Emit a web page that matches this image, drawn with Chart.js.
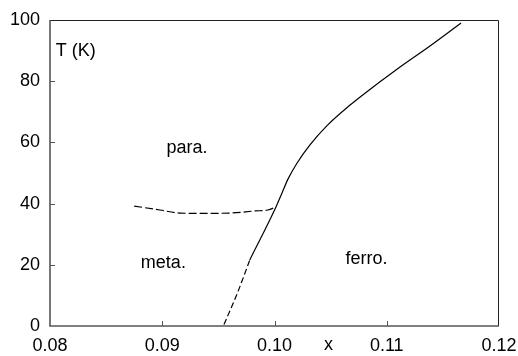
<!DOCTYPE html>
<html>
<head>
<meta charset="utf-8">
<script src="https://cdn.jsdelivr.net/npm/chart.js@4"></script>
<style>
  html, body { margin: 0; padding: 0; background: #fff; }
  #wrap { width: 518px; height: 356px; }
</style>
</head>
<body>
<div id="wrap"><canvas id="phase"></canvas></div>
<script>
// x ticks / T ticks
const xTicks = [0.08, 0.09, 0.10, 0.11, 0.12]
const tTicks = [0, 20, 40, 60, 80, 100]

// ferro boundary (solid)
const ferroX = [0.0978, 0.10013, 0.10067, 0.1012, 0.1020, 0.10316, 0.10468, 0.10673, 0.10789, 0.11091, 0.11385, 0.11662]
const ferroT = [21.6, 38.9, 43.5, 48.0, 53.2, 59.2, 65.5, 72.2, 75.6, 83.9, 91.5, 99.0]

// meta / para boundary (dashed)
const metaParaX = [0.0875, 0.0898, 0.0916, 0.0934, 0.0960, 0.0983, 0.0994, 0.10013]
const metaParaT = [39.2, 37.9, 36.9, 36.8, 36.9, 37.6, 37.9, 38.9]

// meta / ferro boundary (dashed)
const metaFerroX = [0.0955, 0.0967, 0.0978]
const metaFerroT = [0.5, 10.8, 21.6]

// region names
const regionNames = ['T (K)', 'para.', 'meta.', 'ferro.', 'x']
const regionX = [0.0823, 0.0922, 0.0901, 0.1082, 0.1048]
const regionT = [89.9, 58.2, 20.6, 21.9, -6.2]

const FONT = '"Liberation Sans", Arial, sans-serif'

let pts = (xs, ys) => xs.map((x, i) => ({x: x, y: ys[i]}))

// frame, inward ticks and the text labels
const framePlugin = {
    id: 'frame',
    afterDraw(chart) {
        const ctx = chart.ctx
        const a = chart.chartArea
        const sx = chart.scales.x
        const sy = chart.scales.y
        ctx.save()
        // top + right
        ctx.strokeStyle = '#222'
        ctx.lineWidth = 1
        ctx.beginPath()
        ctx.moveTo(a.left, a.top + 0.5)
        ctx.lineTo(a.right - 0.5, a.top + 0.5)
        ctx.lineTo(a.right - 0.5, a.bottom)
        ctx.stroke()
        // left + bottom
        ctx.strokeStyle = '#555'
        ctx.lineWidth = 1.6
        ctx.beginPath()
        ctx.moveTo(a.left, a.top)
        ctx.lineTo(a.left, a.bottom)
        ctx.lineTo(a.right, a.bottom)
        ctx.stroke()
        // ticks pointing in
        ctx.lineWidth = 1
        ctx.beginPath()
        for (let v of xTicks.slice(1, -1)) {
            let px = Math.round(sx.getPixelForValue(v)) + 0.5
            ctx.moveTo(px, a.bottom)
            ctx.lineTo(px, a.bottom - 5)
        }
        for (let v of tTicks.slice(1, -1)) {
            let py = Math.round(sy.getPixelForValue(v)) + 0.5
            ctx.moveTo(a.left, py)
            ctx.lineTo(a.left + 5, py)
        }
        ctx.stroke()
        // labels
        ctx.fillStyle = '#000'
        ctx.font = '18px ' + FONT
        ctx.textAlign = 'center'
        ctx.textBaseline = 'middle'
        regionNames.forEach((t, i) => {
            ctx.fillText(t, sx.getPixelForValue(regionX[i]), sy.getPixelForValue(regionT[i]))
        })
        ctx.restore()
    }
}

const lineStyle = {
    showLine: true,
    borderColor: '#000',
    borderWidth: 1.2,
    pointRadius: 0,
    fill: false,
    cubicInterpolationMode: 'monotone'
}

const config = {
    type: 'scatter',
    data: {
        datasets: [
            Object.assign({label: 'ferro', data: pts(ferroX, ferroT)}, lineStyle),
            Object.assign({label: 'meta-para', data: pts(metaParaX, metaParaT), borderDash: [8, 3]}, lineStyle),
            Object.assign({label: 'meta-ferro', data: pts(metaFerroX, metaFerroT), borderDash: [6, 3]}, lineStyle)
        ]
    },
    options: {
        responsive: true,
        maintainAspectRatio: false,
        animation: false,
        layout: {padding: {top: 20, right: 19, left: 0, bottom: 0}},
        plugins: {legend: {display: false}, tooltip: {enabled: false}},
        scales: {
            x: {
                type: 'linear',
                min: xTicks[0],
                max: xTicks[xTicks.length - 1],
                afterBuildTicks: s => { s.ticks = xTicks.map(v => ({value: v})) },
                afterFit: s => { s.height = 30; s.paddingLeft = 0; s.paddingRight = 0 },
                grid: {display: false, drawTicks: false},
                border: {display: false},
                ticks: {
                    color: '#000',
                    padding: 9,
                    font: {family: FONT, size: 18},
                    callback: v => v.toFixed(2)
                }
            },
            y: {
                type: 'linear',
                min: tTicks[0],
                max: tTicks[tTicks.length - 1],
                afterBuildTicks: s => { s.ticks = tTicks.map(v => ({value: v})) },
                afterFit: s => { s.width = 50; s.paddingTop = 0; s.paddingBottom = 0 },
                grid: {display: false, drawTicks: false},
                border: {display: false},
                ticks: {
                    color: '#000',
                    padding: 10,
                    font: {family: FONT, size: 18}
                }
            }
        }
    },
    plugins: [framePlugin]
}

const phaseChart = new Chart(document.getElementById('phase'), config)
</script>
</body>
</html>
